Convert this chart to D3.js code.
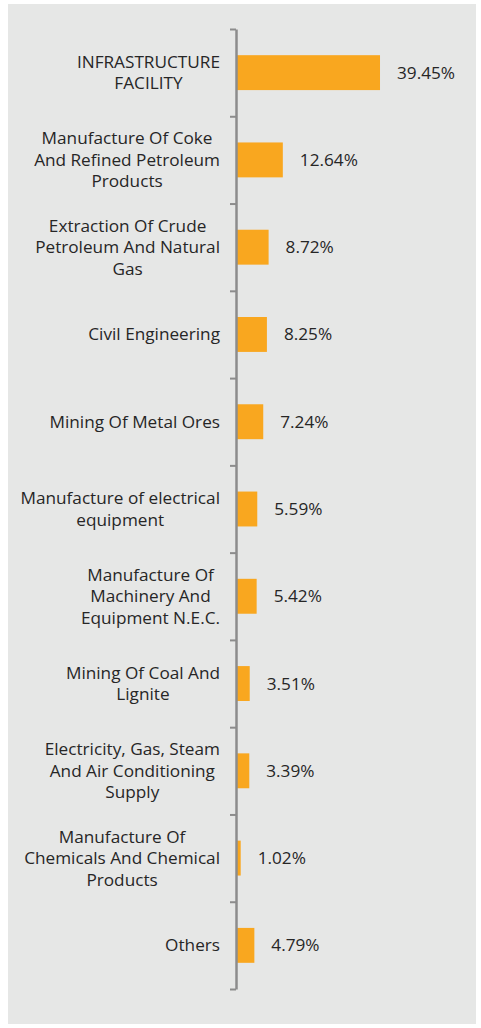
<!DOCTYPE html>
<html><head><meta charset="utf-8">
<script src="https://cdn.jsdelivr.net/npm/d3@7"></script>
<style>
html,body{margin:0;padding:0;background:#fff;}
svg{display:block;}
</style></head>
<body>
<svg id="chart" width="481" height="1028"></svg>
<script>
const categories = [
  "INFRASTRUCTURE\nFACILITY",
  "Manufacture Of Coke\nAnd Refined Petroleum\nProducts",
  "Extraction Of Crude\nPetroleum And Natural\nGas",
  "Civil Engineering",
  "Mining Of Metal Ores",
  "Manufacture of electrical\nequipment",
  "Manufacture Of\nMachinery And\nEquipment N.E.C.",
  "Mining Of Coal And\nLignite",
  "Electricity, Gas, Steam\nAnd Air Conditioning\nSupply",
  "Manufacture Of\nChemicals And Chemical\nProducts",
  "Others"
];
const values = [39.45, 12.64, 8.72, 8.25, 7.24, 5.59, 5.42, 3.51, 3.39, 1.02, 4.79];
const valueLabels = ["39.45%","12.64%","8.72%","8.25%","7.24%","5.59%","5.42%","3.51%","3.39%","1.02%","4.79%"];

const svg = d3.select("#chart");
svg.append("rect").attr("x",8).attr("y",4).attr("width",468).attr("height",1020).attr("fill","#e6e7e6");

const axisX = 236, plotTop = 29, plotBottom = 989;
const x = d3.scaleLinear().domain([0, 40]).range([axisX + 1, axisX + 1 + 145]);
const y = d3.scaleBand().domain(d3.range(categories.length)).range([plotTop, plotBottom]).paddingInner(0.6).paddingOuter(0.3);
const yEdges = d3.scaleLinear().domain([0, categories.length]).range([plotTop, plotBottom]);

const font = "'Open Sans', 'Noto Sans', sans-serif";
const fs = 17.2;

// bars
svg.append("g").selectAll("rect").data(values).join("rect")
  .attr("x", x(0))
  .attr("y", (d,i) => y(i))
  .attr("width", d => x(d) - x(0))
  .attr("height", y.bandwidth())
  .attr("fill", "#f9a71f");

// axis
const axis = d3.axisLeft(yEdges).tickValues(d3.range(categories.length + 1)).tickSize(6).tickSizeOuter(0).tickFormat("");
const ag = svg.append("g").attr("transform", `translate(${axisX},0)`).call(axis);
ag.select(".domain").attr("stroke", "#8c8c8c").attr("stroke-width", 2.5);
ag.selectAll(".tick line").attr("stroke", "#8c8c8c").attr("stroke-width", 2);

// category labels: centred block whose widest line ends at labelRight
const lh = 21.5, labelRight = 220;
svg.append("g").selectAll("text").data(categories).join("text")
  .attr("text-anchor", "middle")
  .attr("font-family", font)
  .attr("font-size", fs)
  .attr("fill", "#262626")
  .each(function(d, i) {
    const lines = d.split("\n");
    const cy = y(i) + y.bandwidth() / 2;
    const t = d3.select(this);
    const spans = lines.map((ln, k) => t.append("tspan")
        .attr("y", cy + (k - (lines.length - 1) / 2) * lh)
        .attr("dy", "0.35em")
        .text(ln));
    const maxW = d3.max(spans, s => s.node().getComputedTextLength());
    spans.forEach(s => s.attr("x", labelRight - maxW / 2));
  });

// value labels
svg.append("g").selectAll("text").data(values).join("text")
  .attr("x", d => x(d) + 17)
  .attr("y", (d,i) => y(i) + y.bandwidth() / 2)
  .attr("dy", "0.35em")
  .attr("font-family", font)
  .attr("font-size", fs)
  .attr("fill", "#262626")
  .text((d,i) => valueLabels[i]);
</script>
</body></html>
